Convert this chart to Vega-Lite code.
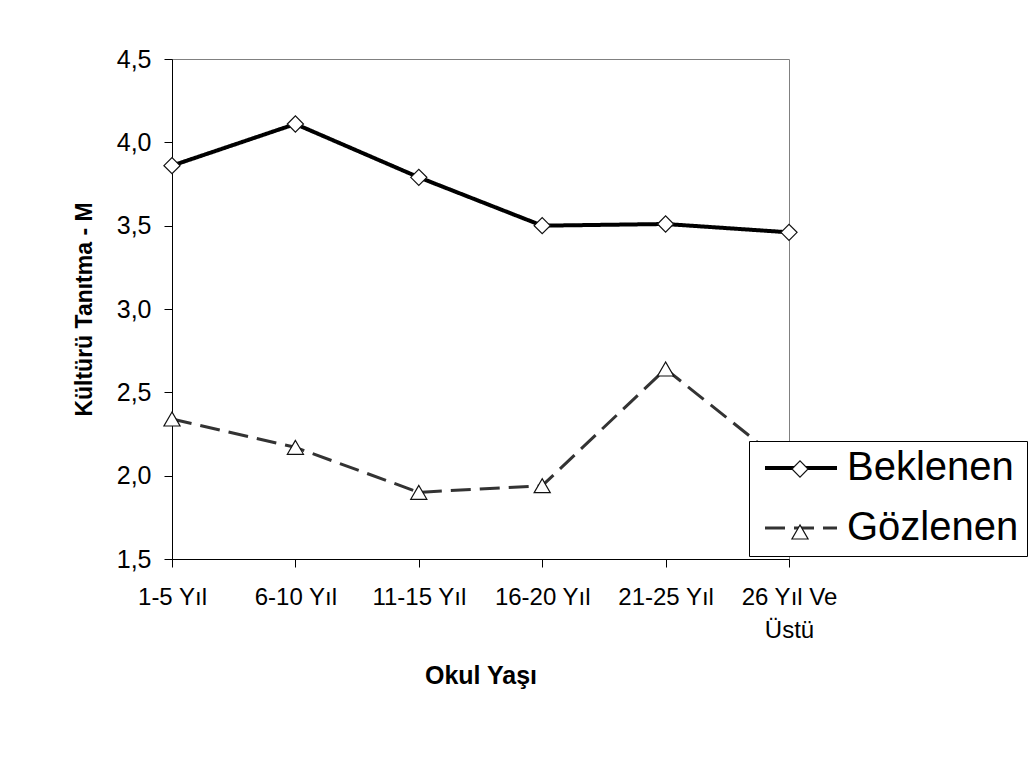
{
  "$schema": "https://vega.github.io/schema/vega-lite/v6.json",
  "width": 617,
  "height": 500,
  "autosize": {"type": "none"},
  "padding": {"left": 172, "top": 59, "right": 243, "bottom": 199},
  "background": "white",
  "config": {"view": {"stroke": "#808080", "strokeWidth": 1}, "font": "Liberation Sans"},
  "data": {
    "values": [
      {"okul": "1-5 Yıl", "seri": "Beklenen", "deger": 3.86},
      {"okul": "6-10 Yıl", "seri": "Beklenen", "deger": 4.11},
      {"okul": "11-15 Yıl", "seri": "Beklenen", "deger": 3.79},
      {"okul": "16-20 Yıl", "seri": "Beklenen", "deger": 3.50},
      {"okul": "21-25 Yıl", "seri": "Beklenen", "deger": 3.51},
      {"okul": "26 Yıl Ve Üstü", "seri": "Beklenen", "deger": 3.46},
      {"okul": "1-5 Yıl", "seri": "Gözlenen", "deger": 2.34},
      {"okul": "6-10 Yıl", "seri": "Gözlenen", "deger": 2.17},
      {"okul": "11-15 Yıl", "seri": "Gözlenen", "deger": 1.90},
      {"okul": "16-20 Yıl", "seri": "Gözlenen", "deger": 1.94},
      {"okul": "21-25 Yıl", "seri": "Gözlenen", "deger": 2.64},
      {"okul": "26 Yıl Ve Üstü", "seri": "Gözlenen", "deger": 2.05}
    ]
  },
  "encoding": {
    "x": {
      "field": "okul",
      "type": "ordinal",
      "sort": null,
      "scale": {"type": "point", "padding": 0},
      "axis": {
        "title": "Okul Yaşı",
        "titleFont": "Liberation Sans",
        "titleFontSize": 25,
        "titleFontWeight": "bold",
        "titleColor": "black",
        "titleY": 104,
        "titleBaseline": "top",
        "labelFont": "Liberation Sans",
        "labelFontSize": 24,
        "labelColor": "black",
        "labelAngle": 0,
        "labelPadding": 18,
        "labelOverlap": false,
        "labelLineHeight": 33,
        "labelExpr": "datum.label == '26 Yıl Ve Üstü' ? ['26 Yıl Ve', 'Üstü'] : datum.label",
        "tickSize": 8,
        "tickColor": "black",
        "domainColor": "black",
        "grid": false
      }
    },
    "y": {
      "field": "deger",
      "type": "quantitative",
      "scale": {"domain": [1.5, 4.5], "nice": false, "zero": false},
      "axis": {
        "title": "Kültürü Tanıtma - M",
        "titleFont": "Liberation Sans",
        "titleFontSize": 23,
        "titleFontWeight": "bold",
        "titleColor": "black",
        "titleX": -88,
        "titleBaseline": "middle",
        "values": [1.5, 2, 2.5, 3, 3.5, 4, 4.5],
        "labelExpr": "replace(format(datum.value, '.1f'), '.', ',')",
        "labelFont": "Liberation Sans",
        "labelFontSize": 25,
        "labelColor": "black",
        "labelPadding": 13,
        "tickSize": 8,
        "tickColor": "black",
        "domainColor": "black",
        "grid": false
      }
    }
  },
  "layer": [
    {
      "mark": {"type": "line", "strokeJoin": "round"},
      "encoding": {
        "color": {
          "field": "seri",
          "type": "nominal",
          "scale": {"range": ["#000000", "#333333"]},
          "legend": {
            "title": null,
            "orient": "none",
            "legendX": 577,
            "legendY": 382,
            "padding": 8,
            "clipHeight": 38,
            "rowPadding": 20,
            "symbolType": "stroke",
            "symbolSize": 5184,
            "symbolOffset": 6,
            "labelOffset": 8,
            "labelFont": "Liberation Sans",
            "labelFontSize": 40,
            "labelColor": "black",
            "labelLimit": 400,
            "fillColor": "white",
            "strokeColor": "black",
            "zindex": 1
          }
        },
        "strokeDash": {
          "field": "seri",
          "type": "nominal",
          "scale": {"range": [[1, 0], [20, 9]]}
        },
        "strokeWidth": {
          "field": "seri",
          "type": "nominal",
          "scale": {"range": [4, 3]}
        }
      }
    },
    {
      "mark": {"type": "point", "filled": false, "fill": "white", "stroke": "#111111", "size": 260, "strokeWidth": 1.2, "opacity": 1},
      "encoding": {
        "shape": {
          "field": "seri",
          "type": "nominal",
          "scale": {"domain": ["Beklenen", "Gözlenen"], "range": ["diamond", "triangle-up"]},
          "legend": {
            "title": null,
            "orient": "none",
            "direction": "vertical",
            "legendX": 577,
            "legendY": 393,
            "padding": 8,
            "rowPadding": 42,
            "symbolOffset": 34,
            "symbolSize": 260,
            "symbolStrokeWidth": 1.2,
            "labelExpr": "''",
            "labelFontSize": 1,
            "zindex": 2
          }
        }
      }
    }
  ]
}
